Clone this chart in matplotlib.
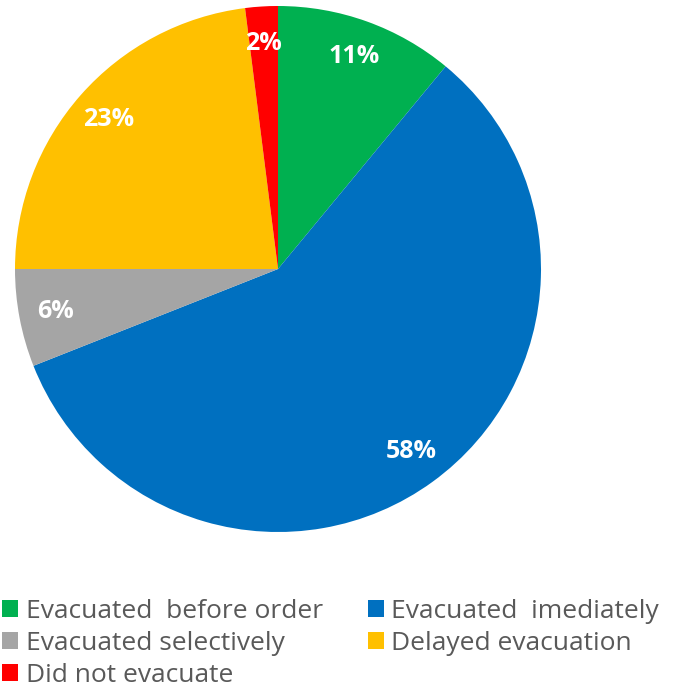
import matplotlib.pyplot as plt
from matplotlib.patches import Patch

# data, clockwise from the top
labels = ['Evacuated  before order', 'Evacuated  imediately', 'Evacuated selectively',
          'Delayed evacuation', 'Did not evacuate']
shares = [11, 58, 6, 23, 2]
colors = ['#00B050', '#0070C0', '#A5A5A5', '#FFC000', '#FF0000']

fig = plt.figure(figsize=(6.75, 6.89), dpi=100)

# pie axes, placed in pixels: centre (278, 269), radius 263
r = 263
cx, cy = 278, 269
ax = fig.add_axes([(cx - r) / 675, (689 - cy - r) / 689, 2 * r / 675, 2 * r / 689])

wedges, texts, autotexts = ax.pie(shares, colors=colors, startangle=90, counterclock=False,
                                  autopct='%d%%', pctdistance=0.86,
                                  wedgeprops=dict(linewidth=0))
for t in autotexts:
    t.set_color('white')
    t.set_fontweight('bold')
    t.set_fontsize(18)
    t.set_family('Open Sans')
ax.set_xlim(-1, 1)
ax.set_ylim(-1, 1)
ax.set_aspect('equal')

# legend: column-wise order so rows read green/blue, gray/yellow, red
order = [0, 2, 4, 1, 3]
handles = [Patch(facecolor=colors[i]) for i in order]
leg = fig.legend(handles, [labels[i] for i in order], ncol=2,
                 loc='upper left', bbox_to_anchor=(2 / 675, 1 - 599 / 689),
                 frameon=False, borderpad=0, borderaxespad=0,
                 handlelength=0.6, handleheight=0.6, handletextpad=0.3,
                 columnspacing=1.7, labelspacing=0.26,
                 prop={'family': 'Open Sans', 'size': 19})
for t in leg.get_texts():
    t.set_color('#595959')

fig.savefig('out.png', dpi=100)
